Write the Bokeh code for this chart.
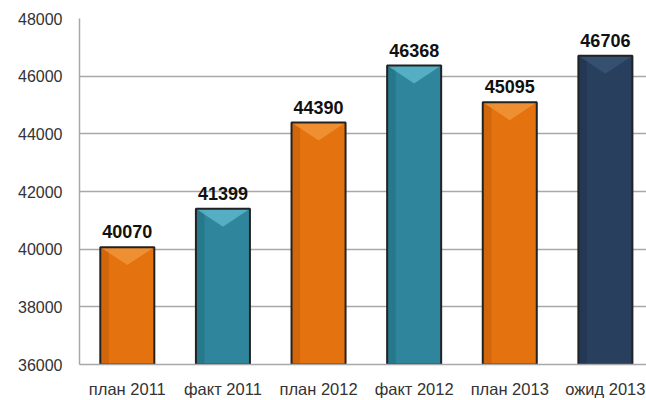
from bokeh.plotting import figure
from bokeh.models import ColumnDataSource, Range1d, FixedTicker
from bokeh.core.properties import value
from bokeh.embed import file_html
from bokeh.resources import INLINE

categories = ["план 2011", "факт 2011", "план 2012", "факт 2012", "план 2013", "ожид 2013"]
values = [40070, 41399, 44390, 46368, 45095, 46706]
bar_colors = ["#E4720F", "#2F869C", "#E4720F", "#2F869C", "#E4720F", "#283F5E"]
bevel_colors = ["#F29A3E", "#62BBD2", "#F29A3E", "#62BBD2", "#F29A3E", "#3A5778"]
shade_colors = ["#C75F08", "#256F82", "#C75F08", "#256F82", "#C75F08", "#1F3450"]
y_ticks = [36000, 38000, 40000, 42000, 44000, 46000, 48000]

FONT = "Liberation Sans"
bar_w = 0.565
bevel_depth = 620

xs = [i + 0.5 for i in range(len(categories))]

src = ColumnDataSource(dict(x=xs, top=values, color=bar_colors, shade=shade_colors,
                            label=[str(v) for v in values]))

p = figure(width=646, height=400, output_backend="svg", toolbar_location=None,
           x_range=Range1d(0, 5.93), y_range=Range1d(y_ticks[0], y_ticks[-1]),
           min_border_left=79, min_border_right=0, min_border_top=18, min_border_bottom=36)
p.outline_line_color = None
p.background_fill_color = "white"
p.border_fill_color = "white"

p.vbar(x="x", top="top", bottom=y_ticks[0], width=bar_w, fill_color="color",
       line_color=None, source=src)
# left shading strip for the cylinder-like look
p.vbar(x=[x - bar_w / 2 + 0.045 for x in xs], top=values, bottom=y_ticks[0], width=0.09,
       fill_color=shade_colors, fill_alpha=0.6, line_color=None)

# top bevel triangles
bx, by = [], []
for x, v in zip(xs, values):
    bx.append([x - bar_w / 2, x + bar_w / 2, x])
    by.append([v, v, v - bevel_depth])
p.patches(bx, by, fill_color=bevel_colors, fill_alpha=0.75, line_color=None)

p.vbar(x="x", top="top", bottom=y_ticks[0], width=bar_w, fill_color=None,
       line_color="#222222", line_width=2, source=src)

p.text(x="x", y="top", text="label", source=src, text_font=value(FONT),
       text_font_style="bold", text_font_size="18px", text_color="#111111",
       text_align="center", text_baseline="bottom", y_offset=-9)

p.xgrid.grid_line_color = None
p.ygrid.grid_line_color = "#A8A8A8"
p.ygrid.grid_line_width = 1.5
p.yaxis.ticker = FixedTicker(ticks=y_ticks)
p.xaxis.ticker = FixedTicker(ticks=xs)
p.xaxis.major_label_overrides = {x: c for x, c in zip(xs, categories)}

for ax in (p.xaxis[0], p.yaxis[0]):
    ax.axis_line_color = "#A8A8A8"
    ax.axis_line_width = 1.5
    ax.major_tick_line_color = None
    ax.minor_tick_line_color = None
    ax.major_tick_out = 0
    ax.major_tick_in = 0
    ax.minor_tick_out = 0
    ax.minor_tick_in = 0
    ax.major_label_text_font = FONT
    ax.major_label_text_color = "#333333"

p.yaxis.major_label_standoff = 17
p.xaxis.major_label_standoff = 15
p.yaxis.major_label_text_font_size = "16px"
p.xaxis.major_label_text_font_size = "16.5px"

open("out.html", "w").write(file_html(p, INLINE))
